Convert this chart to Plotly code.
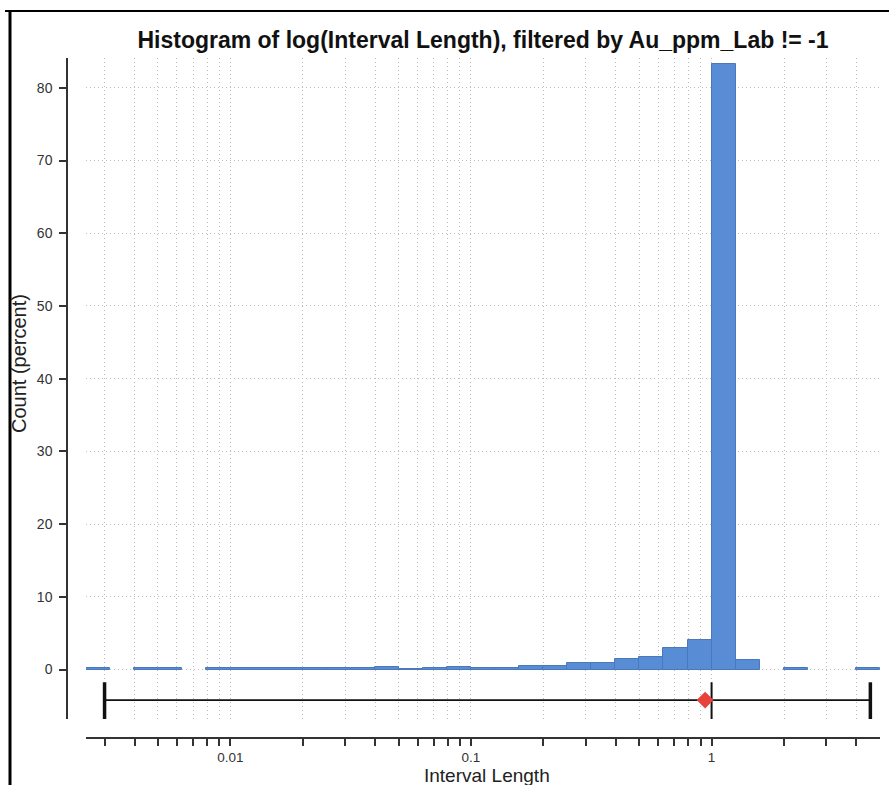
import numpy as np
import plotly.graph_objects as go

# ---- data ----
# histogram bins: start of each bin in log10(Interval Length), width 0.1 decade
bin_log_start = [-2.6, -2.5, -2.4, -2.3, -2.2, -2.1, -2.0, -1.9, -1.8, -1.7,
                 -1.6, -1.5, -1.4, -1.3, -1.2, -1.1, -1.0, -0.9, -0.8, -0.7,
                 -0.6, -0.5, -0.4, -0.3, -0.2, -0.1, 0.0, 0.1, 0.2, 0.3,
                 0.4, 0.5, 0.6]
bin_width_log = 0.1
count_percent = [0.15, 0.0, 0.15, 0.15, 0.0, 0.15, 0.15, 0.15, 0.15, 0.15,
                 0.15, 0.15, 0.35, 0.1, 0.25, 0.4, 0.27, 0.27, 0.5, 0.5,
                 0.9, 0.9, 1.5, 1.7, 2.9, 4.1, 83.3, 1.3, 0.0, 0.15,
                 0.0, 0.0, 0.15]

# summary statistics shown under the histogram
stat_min = 0.003
stat_median = 1.0
stat_mean = 0.94
stat_max = 4.57

x_tick_values = [0.003, 0.004, 0.005, 0.006, 0.007, 0.008, 0.009,
                 0.01, 0.02, 0.03, 0.04, 0.05, 0.06, 0.07, 0.08, 0.09,
                 0.1, 0.2, 0.3, 0.4, 0.5, 0.6, 0.7, 0.8, 0.9,
                 1, 2, 3, 4]
x_tick_labels = ["0.01" if v == 0.01 else "0.1" if v == 0.1 else "1" if v == 1 else ""
                 for v in x_tick_values]
y_tick_values = [0, 10, 20, 30, 40, 50, 60, 70, 80]

# ---- figure ----
FONT = "Liberation Sans, Arial, Helvetica, sans-serif"
W, H = 889, 785
ml, mr, mt, mb = 67, 9, 58, 47
plot_w = W - ml - mr
plot_h = H - mt - mb

centers = [s + bin_width_log / 2 for s in bin_log_start]
heights = [c if c > 0 else None for c in count_percent]

fig = go.Figure()
fig.add_trace(go.Bar(
    x=centers, y=heights, width=bin_width_log,
    marker=dict(color="#588cd5", line=dict(color="#4a78ba", width=1)),
    hoverinfo="skip", showlegend=False,
))

box_y = -4.2
cap_lo, cap_hi = -1.75, -6.8
lmin, lmed, lmean, lmax = (np.log10(v) for v in (stat_min, stat_median, stat_mean, stat_max))

fig.add_trace(go.Scatter(x=[lmin, lmax], y=[box_y, box_y], mode="lines",
                         line=dict(color="#111111", width=1.8), showlegend=False, hoverinfo="skip"))
for xv, wd in ((lmin, 3.5), (lmax, 3.5), (lmed, 2)):
    fig.add_trace(go.Scatter(x=[xv, xv], y=[cap_lo, cap_hi], mode="lines",
                             line=dict(color="#111111", width=wd), showlegend=False, hoverinfo="skip"))
fig.add_trace(go.Scatter(x=[lmean], y=[box_y], mode="markers",
                         marker=dict(symbol="diamond", size=13, color="#e8413a"),
                         showlegend=False, hoverinfo="skip"))

GRID = dict(showgrid=True, gridcolor="#bdbdbd", griddash="1px,3px", gridwidth=1)

fig.update_layout(
    width=W, height=H, autosize=False,
    margin=dict(l=ml, r=mr, t=mt, b=mb, pad=0, autoexpand=False),
    paper_bgcolor="white", plot_bgcolor="white",
    font=dict(family=FONT, color="#333333", size=13),
    bargap=0,
    title=dict(text="<b>Histogram of log(Interval Length), filtered by Au_ppm_Lab != -1</b>",
               x=(483 - ml) / plot_w, xanchor="center", xref="paper",
               y=1 - 40 / H, yanchor="middle", yref="container",
               font=dict(family=FONT, size=23, color="#111111")),
    xaxis=dict(
        domain=[19 / plot_w, 1], anchor="free", position=0, automargin=False,
        range=[-2.6, 0.7],
        tickvals=[float(np.log10(v)) for v in x_tick_values], ticktext=x_tick_labels,
        ticks="outside", ticklen=7, tickwidth=1.5, tickcolor="#333333",
        showline=True, linecolor="#333333", linewidth=1.5,
        zeroline=False, **GRID,
        tickfont=dict(size=13.5, color="#333333"),
    ),
    yaxis=dict(
        domain=[19 / plot_h, 1], anchor="free", position=0, automargin=False,
        range=[-6.8, 84.1],
        tickvals=y_tick_values,
        ticks="outside", ticklen=7, tickwidth=1.5, tickcolor="#333333",
        showline=True, linecolor="#333333", linewidth=1.5,
        zeroline=False, **GRID,
        tickfont=dict(size=14, color="#333333"),
        ticklabelstandoff=4,
    ),
    annotations=[
        dict(text="Count (percent)", textangle=-90, showarrow=False,
             xref="paper", yref="paper",
             x=(19 - ml) / plot_w, y=(H - mb - 364) / plot_h,
             xanchor="center", yanchor="middle",
             font=dict(family=FONT, size=20, color="#222222")),
        dict(text="Interval Length", showarrow=False,
             xref="paper", yref="paper",
             x=(487 - ml) / plot_w, y=(H - mb - 775) / plot_h,
             xanchor="center", yanchor="middle",
             font=dict(family=FONT, size=19, color="#222222")),
    ],
    shapes=[
        dict(type="line", xref="paper", yref="paper",
             x0=(10 - ml) / plot_w, x1=(10 - ml) / plot_w,
             y0=-(H - mt - plot_h + 10) / plot_h, y1=1 + (mt - 11) / plot_h,
             line=dict(color="black", width=3)),
        dict(type="line", xref="paper", yref="paper",
             x0=(5 - ml) / plot_w, x1=(W + 5 - ml) / plot_w,
             y0=1 + (mt - 11) / plot_h, y1=1 + (mt - 11) / plot_h,
             line=dict(color="black", width=2)),
    ],
)

fig.write_html("out.html")
